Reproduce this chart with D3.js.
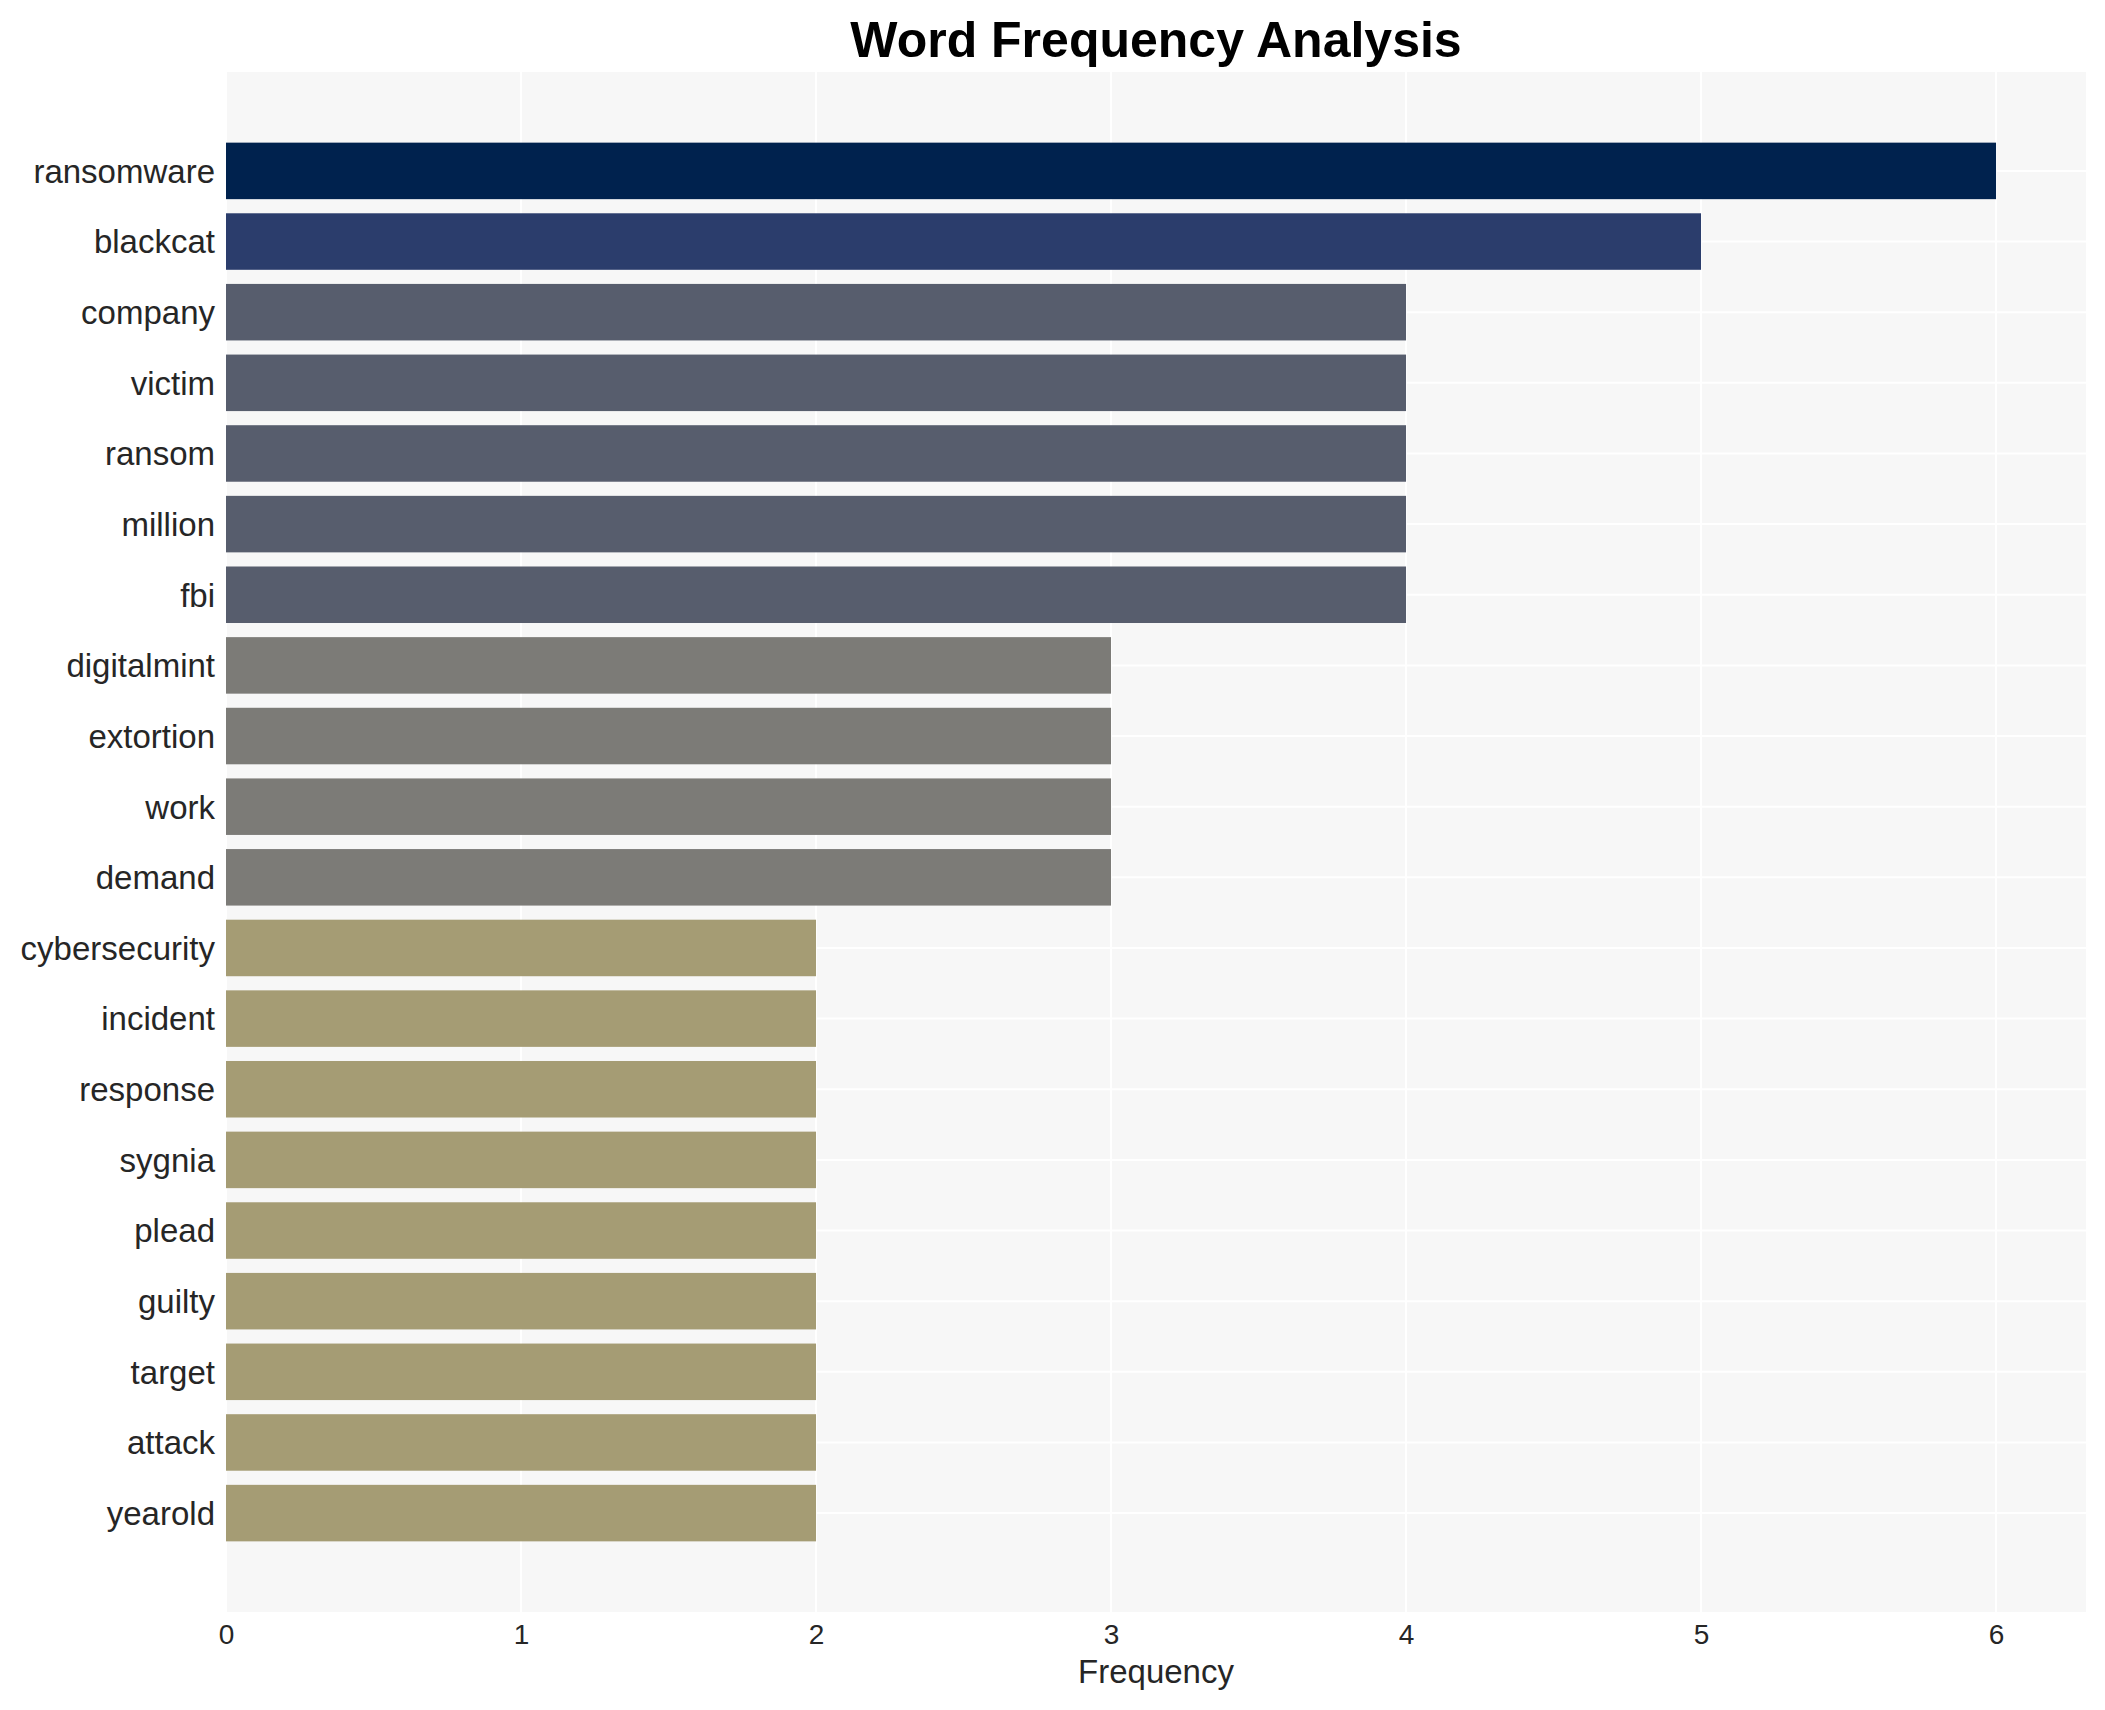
<!DOCTYPE html>
<html>
<head>
<meta charset="utf-8">
<script src="https://cdn.jsdelivr.net/npm/d3@7"></script>
<style>
  html, body { margin: 0; padding: 0; background: #ffffff; }
  svg { display: block; }
</style>
</head>
<body>
<svg id="chart" width="2105" height="1710"></svg>
<script>
const words = ["ransomware","blackcat","company","victim","ransom","million","fbi","digitalmint","extortion","work","demand","cybersecurity","incident","response","sygnia","plead","guilty","target","attack","yearold"];
const counts = [6,5,4,4,4,4,4,3,3,3,3,2,2,2,2,2,2,2,2,2];
const xTicks = [0,1,2,3,4,5,6];
const colorValues = [6,5,4,3,2];
const colorHexes = ["#00224e","#2b3d6c","#575d6d","#7c7b77","#a59c74"];

const W = 2105, H = 1710;
const margin = {left: 226, right: 19, top: 72, bottom: 98};
const svg = d3.select("#chart");
const font = "'Liberation Sans', Arial, Helvetica, sans-serif";

const x = d3.scaleLinear().domain([0, 6.305]).range([margin.left, W - margin.right]);
const y = d3.scaleBand().domain(words).range([margin.top, H - margin.bottom]).paddingInner(0.2).paddingOuter(1.0);
const color = d3.scaleOrdinal().domain(colorValues).range(colorHexes);

// plot background
svg.append("rect")
  .attr("x", x.range()[0]).attr("y", margin.top)
  .attr("width", x.range()[1] - x.range()[0])
  .attr("height", H - margin.bottom - margin.top)
  .attr("fill", "#f7f7f7");

// grid lines
svg.append("g").selectAll("line.v").data(xTicks).join("line")
  .attr("x1", d => x(d)).attr("x2", d => x(d))
  .attr("y1", margin.top).attr("y2", H - margin.bottom)
  .attr("stroke", "#ffffff").attr("stroke-width", 2);
svg.append("g").selectAll("line.h").data(words).join("line")
  .attr("x1", x.range()[0]).attr("x2", x.range()[1])
  .attr("y1", d => y(d) + y.bandwidth() / 2).attr("y2", d => y(d) + y.bandwidth() / 2)
  .attr("stroke", "#ffffff").attr("stroke-width", 2);

// bars
svg.append("g").selectAll("rect").data(words).join("rect")
  .attr("x", x(0))
  .attr("y", d => y(d))
  .attr("width", (d, i) => x(counts[i]) - x(0))
  .attr("height", y.bandwidth())
  .attr("fill", (d, i) => color(counts[i]));

// y axis labels
const yAxis = d3.axisLeft(y).tickSize(0).tickPadding(11);
const yg = svg.append("g").attr("transform", `translate(${x(0)},0)`).call(yAxis);
yg.select(".domain").remove();
yg.selectAll("text")
  .attr("font-family", font).attr("font-size", 33).attr("fill", "#262626")
  .attr("dy", "0.36em");

// x axis labels
const xAxis = d3.axisBottom(x).tickValues(xTicks).tickFormat(d3.format("d")).tickSize(0).tickPadding(12);
const xg = svg.append("g").attr("transform", `translate(0,${H - margin.bottom})`).call(xAxis);
xg.select(".domain").remove();
xg.selectAll("text")
  .attr("font-family", font).attr("font-size", 28).attr("fill", "#262626")
  .attr("dy", "0.71em");

// axis title
svg.append("text")
  .attr("x", (x.range()[0] + x.range()[1]) / 2).attr("y", 1683)
  .attr("text-anchor", "middle")
  .attr("font-family", font).attr("font-size", 33).attr("fill", "#262626")
  .text("Frequency");

// title
svg.append("text")
  .attr("x", (x.range()[0] + x.range()[1]) / 2).attr("y", 57)
  .attr("text-anchor", "middle")
  .attr("font-family", font).attr("font-size", 50).attr("font-weight", "bold").attr("fill", "#000000")
  .text("Word Frequency Analysis");
</script>
</body>
</html>
